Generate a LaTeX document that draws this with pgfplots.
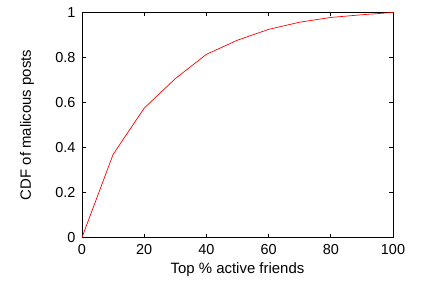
\documentclass[border=0pt]{standalone}
\usepackage{pgfplots}
\pgfplotsset{compat=1.18}
\usepackage{fontspec}
\setmainfont{Liberation Sans}
\begin{document}
\begin{tikzpicture}
\begin{axis}[
  scale only axis,
  width=311bp, height=225bp,
  xmin=0, xmax=100, ymin=0, ymax=1,
  xtick={0,20,40,60,80,100},
  ytick={0,0.2,0.4,0.6,0.8,1},
  yticklabels={0,0.2,0.4,0.6,0.8,1},
  tick align=inside,
  major tick length=4bp,
  tick style={black, line width=0.8pt},
  axis line style={line width=0.9pt},
  /pgf/number format/assume math mode=true,
  ticklabel style={font=\fontsize{14.5}{16}\selectfont},
  xticklabel style={yshift=-3bp},
  yticklabel style={xshift=-3bp},
  label style={font=\fontsize{15}{17}\selectfont},
  xlabel={Top \% active friends},
  ylabel={CDF of malicous posts},
  xlabel style={at={([yshift=-32bp]axis description cs:0.5,0)}, anchor=center},
  ylabel style={at={([xshift=-55bp]axis description cs:0,0.5)}, anchor=center},
]
\addplot[red, line width=0.7pt, mark=none] coordinates {
(0,0) (10,0.369) (20,0.575) (30,0.706) (40,0.814) (50,0.877) (60,0.925) (70,0.957) (80,0.978) (90,0.99) (100,1.0)
};
\coordinate (sw) at (rel axis cs:0,0);
\coordinate (ne) at (rel axis cs:1,1);
\end{axis}
\pgfresetboundingbox
\path ([shift={(-82bp,-45bp)}]sw) rectangle ([shift={(29bp,12.5bp)}]ne);
\end{tikzpicture}
\end{document}
